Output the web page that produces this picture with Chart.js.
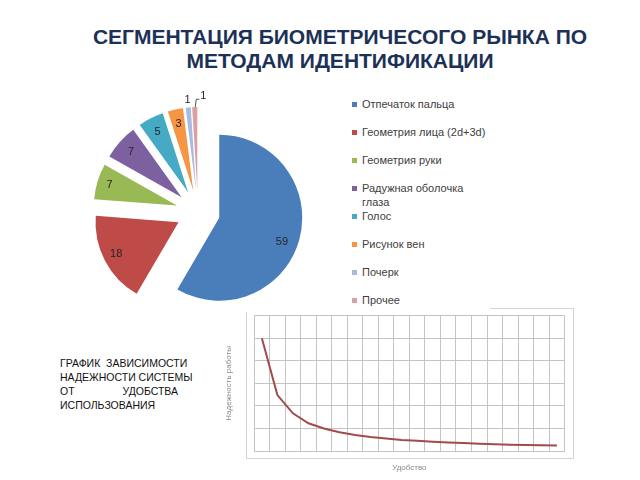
<!DOCTYPE html>
<html lang="ru">
<head>
<meta charset="utf-8">
<script src="https://cdn.jsdelivr.net/npm/chart.js@4.4.1/dist/chart.umd.min.js"></script>
<style>
  html, body { margin: 0; padding: 0; background: #fff; }
  body { width: 640px; height: 480px; position: relative; overflow: hidden; font-family: "Liberation Sans", Arial, sans-serif; }
  #title { position: absolute; left: 20px; top: 25px; width: 640px; text-align: center; font-weight: bold; font-size: 21px; line-height: 24px; color: #1d3157; white-space: nowrap; }
  #pieBox { position: absolute; left: 78px; top: 80px; width: 240px; height: 264px; }
  #legend { position: absolute; left: 350px; top: 97px; width: 140px; margin: 0; padding: 0; list-style: none; font-size: 11px; line-height: 14px; color: #404040; }
  #legend li { min-height: 28px; padding-left: 12px; position: relative; }
  #legend li span { position: absolute; left: 2px; top: 4.5px; width: 5px; height: 5px; }
  #note { position: absolute; left: 60px; top: 356px; font-size: 10.5px; line-height: 14px; color: #111; white-space: pre; }
  #note .spread { width: 118px; text-align: justify; text-align-last: justify; white-space: normal; }
  #lineBox { position: absolute; left: 220px; top: 300px; width: 360px; height: 180px; }
  .frame { position: absolute; background: #d4d4d4; }
</style>
</head>
<body>
<div id="title">СЕГМЕНТАЦИЯ БИОМЕТРИЧЕСОГО РЫНКА ПО<br>МЕТОДАМ ИДЕНТИФИКАЦИИ</div>

<div id="pieBox"><canvas id="chartPie"></canvas></div>
<ul id="legend"></ul>

<div id="note"><div>ГРАФИК  ЗАВИСИМОСТИ</div><div>НАДЕЖНОСТИ СИСТЕМЫ</div><div class="spread">ОТ УДОБСТВА</div><div>ИСПОЛЬЗОВАНИЯ</div></div>

<div class="frame" style="left:246px; top:312px; width:1px; height:146px;"></div>
<div class="frame" style="left:246px; top:458px; width:328px; height:1px;"></div>
<div class="frame" style="left:573px; top:308px; width:1px; height:150px;"></div>
<div class="frame" style="left:490px; top:308px; width:83px; height:1px;"></div>
<div id="lineBox"><canvas id="chartLine"></canvas></div>

<script>
const methods = [
    "Отпечаток пальца",
    "Геометрия лица (2d+3d)",
    "Геометрия руки",
    "Радужная оболочка глаза",
    "Голос",
    "Рисунок вен",
    "Почерк",
    "Прочее"
];

const shares = [59, 18, 7, 7, 5, 3, 1, 1];

const sliceColors = [
    "#4a7ebb",
    "#be4b48",
    "#98b954",
    "#7d60a0",
    "#46aac5",
    "#f69544",
    "#a9badf",
    "#d9a0a6"
];

const convenience = [
    "1","2","3","4","5","6","7","8","9","10",
    "11","12","13","14","15","16","17","18","19","20"
];

const reliability = [
    5.0, 2.48, 1.67, 1.23, 1.0, 0.83, 0.71, 0.62, 0.55, 0.49,
    0.45, 0.41, 0.38, 0.35, 0.32, 0.30, 0.28, 0.27, 0.25, 0.24
];

// where each value label sits: fraction of radius, then a small nudge
const labelDist = [0.82, 0.82, 0.85, 0.82, 0.82, 0.82, 1.085, 1.13];
const labelShiftX = [-3, -2, 0, 0, 0, 0, 0, 9];
const labelShiftY = [6, 0, 0, 0, 0, 0, 0, 0];

const R = 83;
const EXPLODE = 22;

// legend
const legend = document.getElementById("legend");
methods.forEach((name, i) => {
    const li = document.createElement("li");
    const box = document.createElement("span");
    box.style.background = sliceColors[i];
    li.appendChild(box);
    li.appendChild(document.createTextNode(name));
    legend.appendChild(li);
});

const explodedPie = {
    id: "explodedPie",
    beforeDatasetsDraw(chart) {
        // push every slice out from the centre along its middle angle
        const area = chart.chartArea;
        const cx = (area.left + area.right) / 2;
        const cy = (area.top + area.bottom) / 2;
        chart.getDatasetMeta(0).data.forEach(arc => {
            const mid = (arc.startAngle + arc.endAngle) / 2;
            arc.x = cx + Math.cos(mid) * EXPLODE;
            arc.y = cy + Math.sin(mid) * EXPLODE;
        });
    },
    afterDatasetsDraw(chart) {
        const ctx = chart.ctx;
        ctx.save();
        ctx.font = "11px 'Liberation Sans', Arial, sans-serif";
        ctx.fillStyle = "#262626";
        ctx.textAlign = "center";
        ctx.textBaseline = "middle";

        chart.getDatasetMeta(0).data.forEach((arc, i) => {
            const mid = (arc.startAngle + arc.endAngle) / 2;
            const d = arc.outerRadius * labelDist[i];
            const x = arc.x + Math.cos(mid) * d + labelShiftX[i];
            const y = arc.y + Math.sin(mid) * d + labelShiftY[i];
            ctx.fillText(shares[i], x, y);

            if (i === shares.length - 1) {
                const ex = arc.x + Math.cos(mid) * arc.outerRadius;
                const ey = arc.y + Math.sin(mid) * arc.outerRadius;
                ctx.strokeStyle = "#555";
                ctx.lineWidth = 1;
                ctx.beginPath();
                ctx.moveTo(ex + 0.5, ey);
                ctx.lineTo(ex + 1.5, y + 3);
                ctx.lineTo(x - 4, y + 3);
                ctx.stroke();
            }
        });
        ctx.restore();
    }
};

new Chart(document.getElementById("chartPie"), {
    type: "pie",
    data: {
        labels: methods,
        datasets: [{
            data: shares,
            backgroundColor: sliceColors,
            borderWidth: 0
        }]
    },
    options: {
        responsive: true,
        maintainAspectRatio: false,
        animation: false,
        radius: R,
        events: [],
        plugins: {
            legend: { display: false },
            tooltip: { enabled: false }
        }
    },
    plugins: [explodedPie]
});

const gridColor = "#c4c4c4";

new Chart(document.getElementById("chartLine"), {
    type: "line",
    data: {
        labels: convenience,
        datasets: [{
            data: reliability,
            borderColor: "#a34a4d",
            borderWidth: 2,
            pointRadius: 0,
            tension: 0
        }]
    },
    options: {
        responsive: true,
        maintainAspectRatio: false,
        animation: false,
        events: [],
        layout: {
            padding: { top: 15.7, right: 15.3, bottom: 3.4, left: 0 }
        },
        plugins: {
            legend: { display: false },
            tooltip: { enabled: false }
        },
        scales: {
            x: {
                offset: true,
                grid: { offset: true, color: gridColor, drawTicks: false },
                border: { color: gridColor },
                ticks: { display: false },
                title: {
                    display: true,
                    text: "Удобство",
                    color: "#8c8c8c",
                    font: { size: 8 },
                    padding: { top: 12, bottom: 4 }
                }
            },
            y: {
                min: 0,
                max: 6,
                ticks: { display: false, stepSize: 1 },
                grid: { color: gridColor, drawTicks: false },
                border: { color: gridColor },
                title: {
                    display: true,
                    text: "Надежность работы",
                    color: "#8c8c8c",
                    font: { size: 8 },
                    padding: { top: 4, bottom: 20.5 }
                }
            }
        }
    }
});
</script>
</body>
</html>
